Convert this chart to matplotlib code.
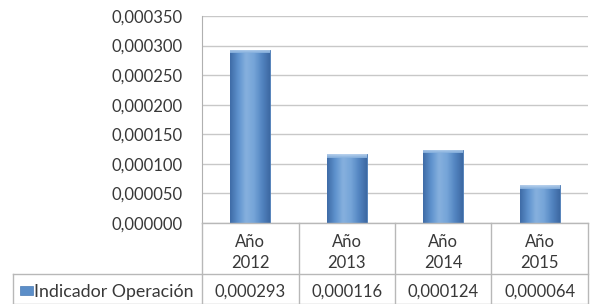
import matplotlib
matplotlib.use("Agg")
import matplotlib.pyplot as plt
import numpy as np
from matplotlib.lines import Line2D
from matplotlib.colors import LinearSegmentedColormap

categories = ["Año\n2012", "Año\n2013", "Año\n2014", "Año\n2015"]
values = [0.000293, 0.000116, 0.000124, 0.000064]
value_labels = ["0,000293", "0,000116", "0,000124", "0,000064"]
series_name = "Indicador Operación"
yticks = [0.0, 0.00005, 0.0001, 0.00015, 0.0002, 0.00025, 0.0003, 0.00035]

W, H = 595, 304
fig = plt.figure(figsize=(W / 100, H / 100), dpi=100)
plt.rcParams['font.family'] = ['Lato', 'DejaVu Sans']
FS = 12
TC = "#383838"

def fx(px):
    return px / W

def fy(py):
    return 1 - py / H

ax_l, ax_r, ax_t, ax_b = 202, 588, 16, 223
ax = fig.add_axes([fx(ax_l), fy(ax_b), fx(ax_r - ax_l), (ax_b - ax_t) / H])
ax.set_xlim(-0.5, len(categories) - 0.5)
ax.set_ylim(0, 0.00035)
ax.set_yticks(yticks)
ax.set_yticklabels([f"{v:.6f}".replace(".", ",") for v in yticks],
                   fontsize=FS, color=TC)
ax.tick_params(axis="y", length=0, pad=14)
ax.set_xticks([])
for s in ["top", "right", "bottom"]:
    ax.spines[s].set_visible(False)
ax.spines["left"].set_color("#b0b0b0")
ax.grid(axis="y", color="#c8c8c8", linewidth=1)
ax.set_axisbelow(True)

bars = ax.bar(range(len(categories)), values, width=0.41, color="#5b8ec8",
              edgecolor="#4a7ab5", linewidth=0.6, zorder=2)

cmap = LinearSegmentedColormap.from_list(
    "cyl", ["#3f6ca7", "#5e92cd", "#86b0de", "#76a5d8", "#5486c2", "#3d69a3"])
grad = np.linspace(0, 1, 64).reshape(1, -1)
for b in bars:
    x0, w, h = b.get_x(), b.get_width(), b.get_height()
    im = ax.imshow(grad, cmap=cmap, aspect="auto",
                   extent=[x0, x0 + w, 0, h], zorder=3, interpolation="bicubic")
    im.set_clip_path(b)
    cap = h - 0.000006
    ax.imshow(np.linspace(0, 1, 16).reshape(-1, 1), cmap=LinearSegmentedColormap.from_list(
        "cap", ["#c2d8f0", "#86b0de"]), aspect="auto", alpha=0.9,
        extent=[x0, x0 + w, cap, h], zorder=4).set_clip_path(b)
ax.set_xlim(-0.5, len(categories) - 0.5)
ax.set_ylim(0, 0.00035)

# data table
line_c = "#b8b8b8"
row_mid = 274
bottom = 304
left = 13
def hline(y, x0, x1):
    fig.add_artist(Line2D([fx(x0), fx(x1)], [fy(y), fy(y)], color=line_c, lw=1))
def vline(x, y0, y1):
    fig.add_artist(Line2D([fx(x), fx(x)], [fy(y0), fy(y1)], color=line_c, lw=1))

hline(ax_b, ax_l, ax_r)
hline(row_mid, left, ax_r)
hline(bottom - 0.5, left, ax_r)
vline(left, row_mid, bottom)
n = len(categories)
col_w = (ax_r - ax_l) / n
for i in range(n + 1):
    vline(ax_l + i * col_w, ax_b, bottom)
for i, (c, v) in enumerate(zip(categories, value_labels)):
    cx = ax_l + (i + 0.5) * col_w
    fig.text(fx(cx), fy(252.5), c, ha="center", va="center", fontsize=FS,
             color=TC, linespacing=1.45)
    fig.text(fx(cx), fy(292), v, ha="center", va="center", fontsize=FS,
             color=TC)
# legend key + series name
fig.patches.append(plt.Rectangle((fx(20), fy(295)), fx(13), 9 / H,
                                 transform=fig.transFigure, facecolor="#5b8ec8",
                                 edgecolor="#4a7ab5", lw=0.5))
fig.text(fx(34), fy(292), series_name, ha="left", va="center", fontsize=12.8,
         color=TC)

fig.savefig("out.png", dpi=100)
